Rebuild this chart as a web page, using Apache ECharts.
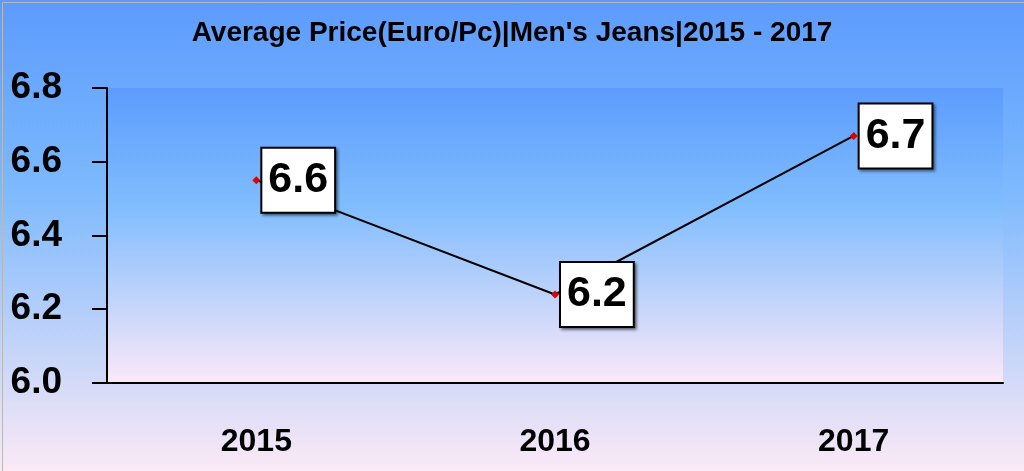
<!DOCTYPE html>
<html>
<head>
<meta charset="utf-8">
<script src="https://cdn.jsdelivr.net/npm/echarts@6/dist/echarts.min.js"></script>
<style>html,body{margin:0;padding:0;}#c{width:1024px;height:471px;}</style>
</head>
<body>
<div id="c"></div>
<script>
const titleText = "Average Price(Euro/Pc)|Men's Jeans|2015 - 2017";
const categories = ['2015', '2016', '2017'];
const values = [6.55, 6.24, 6.67];
const valueLabels = ['6.6', '6.2', '6.7'];
const yMin = 6.0, yMax = 6.8, yStep = 0.2;

const chart = echarts.init(document.getElementById('c'));
const grad = (stops) => new echarts.graphic.LinearGradient(0, 0, 0, 1, stops);
chart.setOption({
  animation: false,
  backgroundColor: grad([
    {offset: 0, color: '#5c9bfd'},
    {offset: 0.4, color: '#7cb9fd'},
    {offset: 1, color: '#fbe9f6'}
  ]),
  title: {
    text: titleText, left: 'center', top: 14,
    textStyle: {fontFamily: 'Liberation Sans', fontWeight: 'bold', fontSize: 28, color: '#000'}
  },
  grid: {
    left: 107, right: 21, top: 88, bottom: 88, show: true, borderWidth: 0,
    backgroundColor: grad([
      {offset: 0, color: '#5c9cfd'},
      {offset: 0.4, color: '#80bdfe'},
      {offset: 1, color: '#fbe8f8'}
    ])
  },
  xAxis: {
    type: 'category', data: categories, boundaryGap: true,
    axisLine: {lineStyle: {color: '#000', width: 2}},
    axisTick: {show: false},
    axisLabel: {margin: 43, color: '#000', fontFamily: 'Liberation Sans', fontWeight: 'bold', fontSize: 32}
  },
  yAxis: {
    type: 'value', min: yMin, max: yMax, interval: yStep,
    splitLine: {show: false},
    axisLine: {show: true, lineStyle: {color: '#000', width: 2}},
    axisTick: {show: true, length: 15, lineStyle: {color: '#000', width: 2}},
    axisLabel: {margin: 45, color: '#000', fontFamily: 'Liberation Sans', fontWeight: 'bold', fontSize: 37,
      formatter: v => v.toFixed(1)}
  },
  series: [{
    type: 'line', data: values,
    symbol: 'diamond', symbolSize: 8,
    itemStyle: {color: '#e00000'},
    lineStyle: {color: '#000', width: 2},
    label: {
      show: true, position: 'right', distance: 2,
      formatter: p => valueLabels[p.dataIndex],
      fontFamily: 'Liberation Sans', fontWeight: 'bold', fontSize: 43, color: '#000',
      lineHeight: 44,
      backgroundColor: '#ffffff', borderColor: '#000', borderWidth: 2,
      padding: [10, 6, 9, 6],
      shadowColor: 'rgba(0,0,0,0.45)', shadowBlur: 3, shadowOffsetX: 2, shadowOffsetY: 2
    },
    z: 3
  }],
  graphic: [{
    type: 'rect', left: 0, top: 0, silent: true,
    shape: {x: 0.5, y: 0.5, width: 1023, height: 470},
    style: {fill: 'none', stroke: '#b8b8b8', lineWidth: 1}
  }]
});
</script>
</body>
</html>
